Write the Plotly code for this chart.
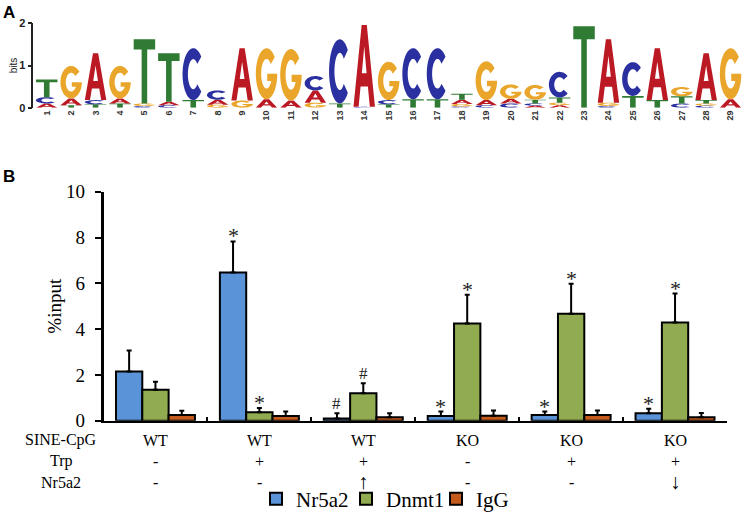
import numpy as np
import plotly.graph_objects as go

# ---------------- Panel A: sequence logo data (bits per letter) ----------------
logo_positions = list(range(1, 30))
logo_A = [0.10, 0.16, 1.11, 0.12, 0.00, 0.08, 0.00, 0.12, 1.24, 0.20, 0.17, 0.29, 0.00, 1.94, 0.00,
          0.00, 0.00, 0.10, 0.12, 0.11, 0.05, 0.06, 0.00, 1.50, 0.00, 1.23, 0.00, 1.11, 0.20]
logo_C = [0.15, 0.00, 0.10, 0.00, 0.04, 0.06, 1.23, 0.22, 0.00, 0.00, 0.00, 0.34, 1.52, 0.02, 0.10,
          1.21, 1.21, 0.03, 0.06, 0.10, 0.05, 0.61, 0.00, 0.04, 0.80, 0.00, 0.10, 0.05, 0.00]
logo_G = [0.00, 0.77, 0.00, 0.77, 0.06, 0.00, 0.00, 0.07, 0.17, 1.21, 1.22, 0.12, 0.00, 0.00, 0.91,
          0.00, 0.00, 0.06, 0.92, 0.34, 0.35, 0.06, 0.00, 0.08, 0.00, 0.00, 0.22, 0.05, 1.21]
logo_T = [0.42, 0.06, 0.08, 0.10, 1.52, 1.15, 0.18, 0.00, 0.00, 0.00, 0.00, 0.00, 0.10, 0.00, 0.08,
          0.20, 0.20, 0.14, 0.00, 0.00, 0.09, 0.12, 1.93, 0.00, 0.28, 0.18, 0.17, 0.08, 0.00]
letter_colors = {"A": "#BB1A24", "C": "#2A30A0", "G": "#EAA62A", "T": "#2F7B33"}

# ---------------- Panel B: ChIP data ----------------
groups = ["g1", "g2", "g3", "g4", "g5", "g6"]
row_sine = ["WT", "WT", "WT", "KO", "KO", "KO"]
row_trp = ["-", "+", "+", "-", "+", "+"]
row_nr5a2 = ["-", "-", "\u2191", "-", "-", "\u2193"]
row_names = ["SINE-CpG", "Trp", "Nr5a2"]

series_names = ["Nr5a2", "Dnmt1", "IgG"]
series_colors = ["#5A93D7", "#91AB50", "#C45A1B"]
nr5a2_vals = [2.15, 6.47, 0.10, 0.20, 0.25, 0.33]
nr5a2_err = [0.92, 1.36, 0.22, 0.20, 0.15, 0.19]
dnmt1_vals = [1.35, 0.37, 1.20, 4.24, 4.67, 4.29]
dnmt1_err = [0.35, 0.18, 0.44, 1.26, 1.31, 1.26]
igg_vals = [0.25, 0.20, 0.15, 0.22, 0.25, 0.15]
igg_err = [0.18, 0.20, 0.17, 0.23, 0.19, 0.19]
nr5a2_sig = ["", "*", "#", "*", "*", "*"]
dnmt1_sig = ["", "*", "#", "*", "*", "*"]
igg_sig = ["", "", "", "", "", ""]

W, H = 744, 517
SERIF = "Liberation Serif, Times New Roman, serif"
SANS = "Liberation Sans, Arial, sans-serif"

fig = go.Figure()

# ---------------- glyph builders (unit box -> data coords) ----------------
def ell(cx, cy, rx, ry, a0, a1, n=40):
    t = np.radians(np.linspace(a0, a1, n))
    return list(zip(cx + rx * np.cos(t), cy + ry * np.sin(t)))

def glyph_unit(letter):
    if letter == "T":
        return [[(0, 1), (1, 1), (1, 0.84), (0.63, 0.84), (0.63, 0), (0.37, 0), (0.37, 0.84), (0, 0.84)]]
    if letter == "A":
        outer = [(0, 0), (0.38, 1), (0.62, 1), (1, 0), (0.76, 0), (0.67, 0.25), (0.33, 0.25), (0.24, 0)]
        hole = [(0.39, 0.41), (0.61, 0.41), (0.5, 0.74)]
        return [outer, hole]
    if letter == "C":
        outer = ell(0.5, 0.5, 0.5, 0.5, 42, 318)
        inner = ell(0.5, 0.5, 0.25, 0.29, 318, 42)
        return [outer + inner]
    if letter == "G":
        outer = ell(0.5, 0.5, 0.5, 0.5, 40, 360)
        bar = [(0.53, 0.5), (0.53, 0.36), (0.5 + 0.25 * np.cos(np.radians(-30)), 0.36)]
        inner = ell(0.5, 0.5, 0.25, 0.29, 330, 40)
        return [outer + bar + inner]
    return []

def glyph_path(letter, xc, y0, h, w=0.88):
    parts = []
    for poly in glyph_unit(letter):
        pts = ["%.4f,%.4f" % (xc - w / 2 + px * w, y0 + py * h) for px, py in poly]
        parts.append("M" + " L".join(pts) + " Z")
    return " ".join(parts)

shapes = []
for i, pos in enumerate(logo_positions):
    stack = [("A", logo_A[i]), ("C", logo_C[i]), ("G", logo_G[i]), ("T", logo_T[i])]
    stack = sorted([s for s in stack if s[1] > 0], key=lambda s: s[1])
    base = 0.0
    for letter, h in stack:
        shapes.append(dict(type="path", xref="x2", yref="y2", path=glyph_path(letter, pos, base, h),
                           fillcolor=letter_colors[letter], line=dict(width=0), layer="above"))
        base += h

# invisible trace so the logo axes render
fig.add_trace(go.Scatter(x=[logo_positions[0]], y=[0], xaxis="x2", yaxis="y2", mode="markers",
                         marker=dict(opacity=0), showlegend=False, hoverinfo="skip"))

# ---------------- bars ----------------
vals = [nr5a2_vals, dnmt1_vals, igg_vals]
errs = [nr5a2_err, dnmt1_err, igg_err]
sigs = [nr5a2_sig, dnmt1_sig, igg_sig]
xidx = list(range(len(groups)))
for k in range(3):
    fig.add_trace(go.Bar(
        x=xidx, y=vals[k], name=series_names[k],
        marker=dict(color=series_colors[k], line=dict(color="black", width=2)),
        error_y=dict(type="data", symmetric=False, array=errs[k], arrayminus=[0] * len(groups),
                     color="black", thickness=2, width=2.5),
        xaxis="x", yaxis="y"))

bargap = 0.24
bw = (1 - bargap) / 3
annotations = []
for k in range(3):
    for i in xidx:
        s = sigs[k][i]
        if s:
            annotations.append(dict(x=i + (k - 1) * bw, y=vals[k][i] + errs[k][i], xref="x", yref="y",
                                    text=s, showarrow=False, xanchor="center", yanchor="bottom",
                                    yshift=(-9 if s == "*" else -2),
                                    font=dict(family=SERIF, size=(22 if s == "*" else 17), color="#222")))

# row labels under the axis
row_y = [440, 461, 482]
rows = [row_sine, row_trp, row_nr5a2]
for r in range(3):
    annotations.append(dict(x=61 / W, y=1 - row_y[r] / H, xref="paper", yref="paper", text=row_names[r],
                            showarrow=False, xanchor="center", yanchor="middle",
                            font=dict(family=SERIF, size=16, color="black")))
    for i in xidx:
        t = rows[r][i]
        is_arrow = t in ("\u2191", "\u2193")
        annotations.append(dict(x=i, y=1 - row_y[r] / H, xref="x", yref="paper", text=t,
                                showarrow=False, xanchor="center", yanchor="middle",
                                font=dict(family=SERIF, size=(21 if is_arrow else 16), color="black")))

# panel letters
annotations.append(dict(x=8.5 / W, y=1 - 12.5 / H, xref="paper", yref="paper", text="<b>A</b>",
                        showarrow=False, xanchor="center", yanchor="middle",
                        font=dict(family=SANS, size=17, color="black")))
annotations.append(dict(x=8.5 / W, y=1 - 176.5 / H, xref="paper", yref="paper", text="<b>B</b>",
                        showarrow=False, xanchor="center", yanchor="middle",
                        font=dict(family=SANS, size=17, color="black")))

fig.update_layout(
    width=W, height=H, margin=dict(l=0, r=0, t=0, b=0, pad=0, autoexpand=False),
    paper_bgcolor="white", plot_bgcolor="white",
    barmode="group", bargap=bargap, bargroupgap=0,
    shapes=shapes, annotations=annotations,
    showlegend=True,
    legend=dict(orientation="h", x=256 / W, xanchor="left", y=1 - 499 / H, yanchor="middle",
                font=dict(family=SERIF, size=21, color="black"), itemwidth=30,
                entrywidth=45, entrywidthmode="pixels",
                traceorder="normal", bgcolor="rgba(0,0,0,0)"),
    xaxis=dict(domain=[103.5 / W, 727 / W], range=[-0.5, 5.5], showline=True, linecolor="black",
               linewidth=2, ticks="inside", ticklen=4, tickwidth=2, tickcolor="black",
               tickvals=[g + 0.5 for g in xidx], showticklabels=False, showgrid=False, zeroline=False,
               anchor="y", fixedrange=True, automargin=False),
    yaxis=dict(domain=[1 - 420.7 / H, 1 - 191.7 / H], range=[0, 10], tickvals=[0, 2, 4, 6, 8, 10],
               showline=True, linecolor="black", linewidth=2.5, ticks="outside", ticklen=6, tickwidth=2,
               tickcolor="black", showgrid=False, zeroline=False, anchor="x", automargin=False,
               tickfont=dict(family=SERIF, size=19, color="black"), ticklabelstandoff=6,
               title=dict(text="%input", font=dict(family=SERIF, size=19, color="black"), standoff=0)),
    xaxis2=dict(domain=[33.3 / W, 1.0], range=[0.45, 29.55], tickvals=logo_positions,
                ticktext=["<b>%d</b>" % p for p in logo_positions], tickangle=-90,
                tickfont=dict(family=SANS, size=9, color="#333"), showline=False, ticks="",
                showgrid=False, zeroline=False, anchor="y2", automargin=False),
    yaxis2=dict(domain=[1 - 107.7 / H, 1 - 23.3 / H], range=[0, 2], tickvals=[0, 1, 2],
                ticktext=["<b>0</b>", "<b>1</b>", "<b>2</b>"], showline=True, linecolor="#222",
                linewidth=1.5, ticks="outside", ticklen=4, tickwidth=1.5, tickcolor="#222",
                tickfont=dict(family=SANS, size=11, color="#222"), showgrid=False, zeroline=False,
                anchor="x2", automargin=False,
                title=dict(text="bits", font=dict(family=SANS, size=10, color="#222"), standoff=0)),
)

fig.write_html("out.html", config={"displayModeBar": False},
               post_script="document.body.style.margin='0';document.body.style.overflow='hidden';")
